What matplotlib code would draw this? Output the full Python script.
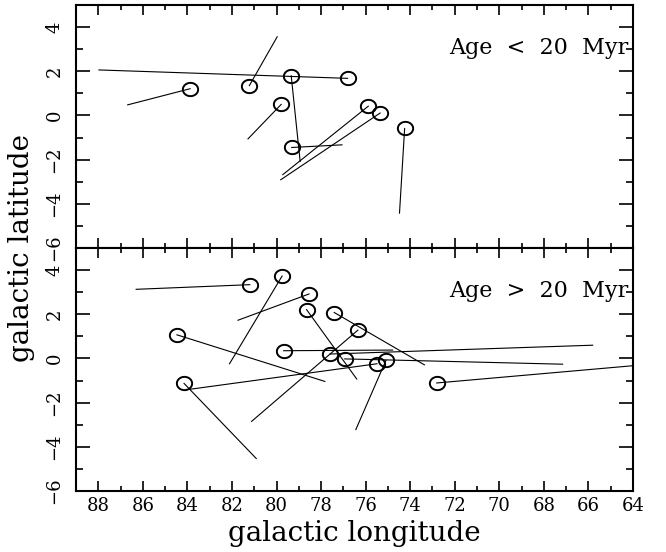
import numpy as np
import matplotlib
matplotlib.use("Agg")
import matplotlib.pyplot as plt
from matplotlib.path import Path
from matplotlib.ticker import MultipleLocator

plt.rcParams['font.family'] = ['DejaVu Serif']

# young clusters: position (l, b) and the end of the motion vector
young_lon = [83.88, 81.22, 79.34, 76.81, 79.79, 79.32, 75.88, 75.35, 74.25]
young_lat = [1.21, 1.35, 1.79, 1.68, 0.50, -1.45, 0.42, 0.11, -0.59]
young_end_lon = [86.68, 79.97, 78.94, 87.97, 81.28, 77.06, 79.72, 79.81, 74.48]
young_end_lat = [0.48, 3.56, -2.08, 2.06, -1.06, -1.33, -2.68, -2.91, -4.42]

# older clusters
old_lon = [81.20, 79.75, 78.54, 78.65, 77.41, 76.35, 84.47, 79.68, 77.60,
           76.94, 75.49, 75.09, 84.15, 72.81]
old_lat = [3.34, 3.73, 2.92, 2.21, 2.08, 1.28, 1.07, 0.35, 0.20,
           -0.02, -0.24, -0.09, -1.13, -1.11]
old_end_lon = [86.30, 82.11, 81.73, 76.40, 73.36, 81.12, 77.83, 74.79, 65.81,
               67.16, 83.92, 76.44, 80.91, 63.90]
old_end_lat = [3.13, -0.24, 1.73, -0.93, -0.29, -2.85, -1.04, 0.38, 0.60,
               -0.26, -1.40, -3.22, -4.53, -0.32]

panel_labels = ["Age  <  20  Myr", "Age  >  20  Myr"]

# slightly flattened open circle
t = np.linspace(0, 2 * np.pi, 60)
ellipse = Path(np.column_stack([1.15 * np.cos(t), np.sin(t)]), closed=True)

fig = plt.figure(figsize=(6.66, 5.52), dpi=100)
left, width = 76 / 666, 557 / 666
ax_top = fig.add_axes([left, 1 - 248 / 552, width, 243 / 552])
ax_bot = fig.add_axes([left, 1 - 491 / 552, width, 243 / 552], sharex=ax_top)

panels = [
    (ax_top, young_lon, young_lat, young_end_lon, young_end_lat, panel_labels[0]),
    (ax_bot, old_lon, old_lat, old_end_lon, old_end_lat, panel_labels[1]),
]

for ax, lon, lat, elon, elat, label in panels:
    for l, b, el, eb in zip(lon, lat, elon, elat):
        ax.plot([l, el], [b, eb], color='black', lw=0.8)
    ax.plot(lon, lat, linestyle='none', marker=ellipse, markersize=11,
            markerfacecolor='none', markeredgecolor='black', markeredgewidth=1.4)

    ax.set_xlim(89, 64)
    ax.set_ylim(-6, 5)
    ax.xaxis.set_major_locator(MultipleLocator(2))
    ax.xaxis.set_minor_locator(MultipleLocator(1))
    ax.yaxis.set_major_locator(MultipleLocator(2))
    ax.yaxis.set_minor_locator(MultipleLocator(1))
    ax.tick_params(which='both', direction='in', top=True, right=True,
                   width=1.2, labelsize=13)
    ax.tick_params(axis='x', which='major', length=7, pad=4)
    ax.tick_params(axis='x', which='minor', length=3.6)
    ax.tick_params(axis='y', which='major', length=10, pad=9, labelrotation=90)
    ax.tick_params(axis='y', which='minor', length=5)
    for lab in ax.get_yticklabels():
        lab.set_va('center')
    for s in ax.spines.values():
        s.set_linewidth(1.5)

    ax.text(0.991, 0.823, label, transform=ax.transAxes, ha='right',
            va='center', fontsize=16)

ax_top.tick_params(axis='x', labelbottom=False)

ax_bot.set_xlabel("galactic longitude", fontsize=20, labelpad=4)
fig.text(22 / 666, 1 - 248 / 552, "galactic latitude", rotation=90,
         ha='center', va='center', fontsize=20)

fig.savefig("out.png", dpi=100)
